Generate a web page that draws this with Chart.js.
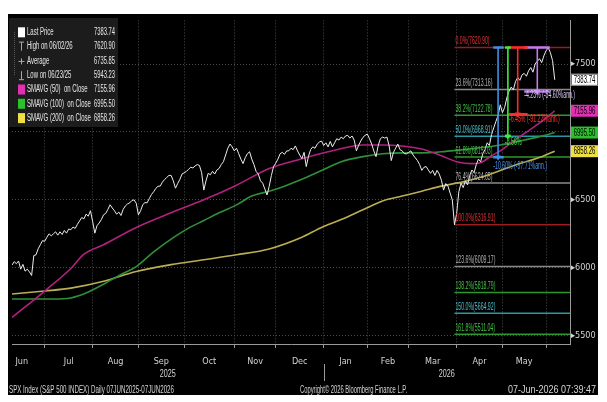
<!DOCTYPE html>
<html>
<head>
<meta charset="utf-8">
<title>SPX Index</title>
<script src="https://cdn.jsdelivr.net/npm/chart.js@4.4.1/dist/chart.umd.min.js"></script>
<style>
  html, body { margin: 0; padding: 0; background: #fff; }
  #box { position: absolute; left: 8px; top: 14px; width: 590px; height: 381px; background: #000; }
</style>
</head>
<body>
<div id="box"><canvas id="spx" width="590" height="381"></canvas></div>
<script>
// daily closes, trading day index 0 = 09 Jun 2025 ... 249 = 05 Jun 2026
const closes = [
  6020, 6045, 6030, 6050, 5990, 6025, 5975, 5990, 5970, 5943.23,
  6090, 6095, 6140, 6170, 6200, 6195, 6225, 6250, 6235, 6250,
  6265, 6240, 6265, 6245, 6275, 6255, 6285, 6280, 6300, 6290,
  6320, 6345, 6370, 6360, 6395, 6380, 6420, 6340, 6255, 6310,
  6330, 6355, 6390, 6400, 6430, 6464, 6440, 6420, 6395, 6410,
  6385, 6430, 6455, 6470, 6478, 6495, 6500, 6475, 6390, 6420,
  6465, 6480, 6478, 6510, 6540, 6560, 6585, 6600, 6601, 6630,
  6650, 6665, 6680, 6680, 6640, 6586, 6620, 6650, 6690, 6700,
  6709, 6725, 6740, 6735, 6750, 6760, 6753, 6700, 6572, 6640,
  6695, 6685, 6710, 6690, 6720, 6731, 6760, 6781, 6830, 6880,
  6911, 6890, 6861, 6880, 6840, 6800, 6767, 6810, 6840, 6854,
  6800, 6760, 6709, 6690, 6640, 6623, 6580, 6536, 6600, 6680,
  6745, 6770, 6800, 6839, 6850, 6835, 6860, 6861, 6880, 6870,
  6897, 6860, 6830, 6803, 6850, 6745, 6820, 6870, 6890, 6880,
  6910, 6925, 6933, 6900, 6920, 6890, 6930, 6890, 6920, 6950,
  6940, 6962, 6950, 6970, 6975, 6955, 6970, 6940, 6861, 6900,
  6933, 6960, 6975, 6984, 6950, 6911, 6860, 6818, 6900, 6950,
  6962, 6955, 6962, 6900, 6789, 6850, 6880, 6911, 6870, 6861,
  6840, 6839, 6850, 6861, 6830, 6810, 6789, 6760, 6717, 6740,
  6745, 6720, 6695, 6717, 6680, 6717, 6690, 6645, 6572, 6620,
  6601, 6550, 6500, 6316.91, 6400, 6560, 6623, 6590, 6640, 6610,
  6680, 6720, 6700, 6760, 6800, 6780, 6840, 6870, 6920, 6900,
  6980, 7030, 7077, 7120, 7200, 7142, 7180, 7250, 7300, 7330,
  7310, 7370, 7402, 7380, 7420, 7431, 7410, 7450, 7474, 7440,
  7500, 7520, 7539, 7510, 7560, 7597, 7620.90, 7583, 7525, 7383.74
];

// moving averages read at a few trading days
const sma50X = [0, 15, 27, 33, 42, 57, 73, 88, 103, 118, 133, 147, 161, 170, 179, 188, 197, 204, 211, 215, 220, 224, 230, 236, 243, 249];
const sma50Y = [5634, 5829, 5995, 6100, 6170, 6297, 6405, 6500, 6608, 6731, 6803, 6861, 6904, 6904, 6897, 6875, 6825, 6781, 6767, 6774, 6825, 6861, 6933, 6998, 7077, 7155.96];
const sma100X = [0, 19, 27, 34, 42, 50, 57, 65, 73, 80, 88, 95, 103, 110, 118, 125, 133, 142, 151, 161, 170, 179, 188, 197, 206, 215, 224, 233, 243, 249];
const sma100Y = [5770, 5770, 5778, 5814, 5879, 5951, 6009, 6117, 6211, 6283, 6348, 6405, 6463, 6528, 6564, 6601, 6651, 6716, 6781, 6818, 6839, 6846, 6846, 6854, 6868, 6883, 6904, 6933, 6969, 6995.50];
const sma200X = [0, 15, 27, 42, 57, 73, 88, 103, 118, 133, 142, 151, 161, 170, 179, 188, 197, 206, 215, 224, 233, 243, 249];
const sma200Y = [5807, 5829, 5850, 5901, 5973, 6023, 6059, 6096, 6139, 6225, 6297, 6355, 6427, 6492, 6528, 6564, 6601, 6630, 6666, 6716, 6767, 6818, 6858.26];

// axis ticks
const monthNames = ['Jun', 'Jul', 'Aug', 'Sep', 'Oct', 'Nov', 'Dec', 'Jan', 'Feb', 'Mar', 'Apr', 'May'];
const monthMid = [4.5, 26, 47.5, 68.5, 90.5, 111.5, 132, 153, 172.5, 193, 214.5, 235];
const monthStart = [15, 37, 58, 79, 102, 121, 143, 163, 182, 204, 225, 245];
const yearNames = ['2025', '2026'];
const yearMid = [71.5, 199.5];
const yTicks = [5500, 6000, 6500, 7000, 7500];

// fibonacci retracement from the 06/02/26 high down to the low
const fibPct = ['0.0%', '23.6%', '38.2%', '50.0%', '61.8%', '76.4%', '100.0%', '123.6%', '138.2%', '150.0%', '161.8%'];
const fibVal = [7620.90, 7313.16, 7122.78, 6968.91, 6815.03, 6624.65, 6316.91, 6009.17, 5818.79, 5664.92, 5511.04];
const fibFrom = 203;

// drawdown measuring tools
const toolStem = [223, 227.5, 232, 241];
const toolCapL = [220.8, 226.2, 228, 235];
const toolCapR = [225.6, 228.8, 236.6, 246.7];
const toolTop = 7620.90;
const toolBottom = [6813.1, 6968.5, 7129.4, 7298.5];
const toolText = ['-10.60% (-97.71%ann.)', '-8.56%', '-6.45% (-91.22%ann.)', '-4.23% (-54.60%ann.)'];

// legend
const legendNames = ['Last Price', 'High on 06/02/26', 'Average', 'Low on 06/23/25', 'SMAVG (50)  on Close', 'SMAVG (100)  on Close', 'SMAVG (200)  on Close'];
const legendValues = ['7383.74', '7620.90', '6735.85', '5943.23', '7155.96', '6995.50', '6858.26'];

const NARROW = '"Liberation Sans Narrow", "DejaVu Sans Condensed", "Liberation Sans", sans-serif';
const GRID = '#4c4c4c';
const AXIS = '#9a9a9a';
const LABEL = '#d4d4d4';
const fibKind = ['red', 'gray', 'green', 'teal', 'green', 'gray', 'red', 'gray', 'green', 'teal', 'green'];
const fibLine = { red: '#9a1c1c', gray: '#8a8a8a', green: '#2c982c', teal: '#2a98a4' };
const fibInk = { red: '#e03434', gray: '#b4b4b4', green: '#46c046', teal: '#4cc0cc' };
const toolColor = ['#3f8fe8', '#39f039', '#ff2a2a', '#c27cf0'];
const toolInk = ['#4a94ec', '#3ce83c', '#ff3030', '#d8c6f4'];
const toolDy = [9, 6, 5, 4];
const maColor = ['#b3207f', '#2f8f3a', '#bcae52'];
const maBox = ['#e22fb4', '#2cc02c', '#eee040'];

// condensed text, like the terminal font
function say(ctx, s, x, y, color, size, sx, align) {
  ctx.save();
  ctx.font = size + 'px "Liberation Sans", Arial, sans-serif';
  ctx.fillStyle = color;
  ctx.textBaseline = 'middle';
  const w = ctx.measureText(s).width * sx;
  const left = align === 'right' ? x - w : align === 'center' ? x - w / 2 : x;
  ctx.translate(left, y);
  ctx.scale(sx, 1);
  ctx.fillText(s, 0, 0);
  ctx.restore();
}
function sayFit(ctx, s, x, y, color, size, width) {
  ctx.save();
  ctx.font = size + 'px "Liberation Sans", Arial, sans-serif';
  const sx = width / ctx.measureText(s).width;
  ctx.restore();
  say(ctx, s, x, y, color, size, sx, 'left');
}

const datasets = [];
datasets.push({
  data: closes.map((v, i) => ({ x: i, y: v })),
  borderColor: '#ececec', borderWidth: 1, order: 2
});
[[sma50X, sma50Y], [sma100X, sma100Y], [sma200X, sma200Y]].forEach(([xs, ys], k) => {
  datasets.push({
    data: xs.map((x, i) => ({ x, y: ys[i] })),
    borderColor: maColor[k], borderWidth: 1.6,
    cubicInterpolationMode: 'monotone', order: 3
  });
});
fibVal.forEach((v, i) => {
  datasets.push({
    data: [{ x: fibFrom, y: v }, { x: 256, y: v }],
    borderColor: fibLine[fibKind[i]], borderWidth: 1.5, order: 5
  });
});
toolStem.forEach((s, i) => {
  datasets.push({
    data: [
      { x: toolCapL[i], y: toolTop }, { x: toolCapR[i], y: toolTop }, { x: toolCapR[i], y: null },
      { x: toolCapL[i], y: toolBottom[i] }, { x: toolCapR[i], y: toolBottom[i] }
    ],
    borderColor: toolColor[i], borderWidth: 2.5, order: 1
  });
  datasets.push({
    data: [{ x: s, y: toolTop }, { x: s, y: toolBottom[i] }],
    borderColor: toolColor[i], backgroundColor: toolColor[i], borderWidth: 1.6,
    pointStyle: 'triangle', pointRotation: 180, pointRadius: [0, 3.5], pointBorderWidth: 0,
    order: 1
  });
});

const overlay = {
  id: 'overlay',
  afterDatasetsDraw(chart) {
    const { ctx, scales: { x, y } } = chart;
    fibVal.forEach((v, i) => {
      say(ctx, fibPct[i] + '(' + v.toFixed(2) + ')', x.getPixelForValue(fibFrom) + 1,
        y.getPixelForValue(v) - 6, fibInk[fibKind[i]], 10, 0.52, 'left');
    });
    toolText.forEach((t, i) => {
      say(ctx, t, x.getPixelForValue(toolCapL[i]), y.getPixelForValue(toolBottom[i]) + toolDy[i],
        toolInk[i], 10, 0.52, 'left');
    });
  },
  afterDraw(chart) {
    const { ctx, chartArea: ca, scales: { x, y } } = chart;

    // price boxes on the right axis
    const boxVals = [closes[closes.length - 1], sma50Y[sma50Y.length - 1], sma100Y[sma100Y.length - 1], sma200Y[sma200Y.length - 1]];
    const boxFill = ['#ffffff'].concat(maBox);
    boxVals.forEach((v, i) => {
      const cy = y.getPixelForValue(v);
      ctx.fillStyle = boxFill[i];
      ctx.fillRect(ca.right + 1, cy - 6, 27, 12);
      if (i === 0) {
        ctx.strokeStyle = '#777';
        ctx.lineWidth = 1;
        ctx.strokeRect(ca.right + 1.5, cy - 5.5, 26, 11);
      }
      say(ctx, v.toFixed(2), ca.right + 14.5, cy + 0.5, '#000', 10, 0.6, 'center');
    });

    // legend panel
    ctx.fillStyle = '#1c1c1c';
    ctx.fillRect(1, 4, 109, 109);
    ctx.strokeStyle = '#555';
    ctx.setLineDash([1, 1]);
    ctx.beginPath();
    ctx.moveTo(6.5, 18); ctx.lineTo(6.5, 61);
    ctx.stroke();
    ctx.setLineDash([]);
    const icon = ['#ffffff', null, null, null].concat(maBox);
    legendNames.forEach((n, i) => {
      const ry = 18.3 + i * 14.3;
      if (icon[i]) {
        ctx.fillStyle = icon[i];
        ctx.fillRect(10, ry - 5, 7, 10);
      } else {
        ctx.strokeStyle = '#aaa';
        ctx.lineWidth = 1;
        ctx.beginPath();
        if (i === 1) { ctx.moveTo(11, ry - 4.5); ctx.lineTo(16, ry - 4.5); ctx.moveTo(13.5, ry - 4.5); ctx.lineTo(13.5, ry + 4); }
        if (i === 2) { ctx.moveTo(10.5, ry + 0.5); ctx.lineTo(16.5, ry + 0.5); ctx.moveTo(13.5, ry - 2.5); ctx.lineTo(13.5, ry + 3.5); }
        if (i === 3) { ctx.moveTo(11, ry + 4.5); ctx.lineTo(16, ry + 4.5); ctx.moveTo(13.5, ry - 4); ctx.lineTo(13.5, ry + 4.5); }
        ctx.stroke();
      }
      say(ctx, n, 19, ry, '#e6e6e6', 10, 0.6, 'left');
      say(ctx, legendValues[i], 107, ry, '#e6e6e6', 10, 0.58, 'right');
    });

    // year row under the months
    yearNames.forEach((t, i) => say(ctx, t, x.getPixelForValue(yearMid[i]), 360, LABEL, 10, 0.72, 'center'));
    const sep = Math.round(x.getPixelForValue(monthStart[6])) + 0.5;
    ctx.strokeStyle = AXIS;
    ctx.lineWidth = 1;
    ctx.beginPath();
    ctx.moveTo(sep, 350); ctx.lineTo(sep, 367);
    ctx.stroke();

    // footer
    sayFit(ctx, 'SPX Index (S&P 500 INDEX) Daily 07JUN2025-07JUN2026', 1, 376, LABEL, 10, 165);
    sayFit(ctx, 'Copyright\u00A9 2026 Bloomberg Finance L.P.', 292, 376, LABEL, 10, 107);
    sayFit(ctx, '07-Jun-2026 07:39:47', 500, 376, LABEL, 10, 88);
  }
};

new Chart(document.getElementById('spx'), {
  type: 'line',
  data: { datasets },
  options: {
    responsive: false,
    animation: false,
    layout: { padding: 0 },
    elements: { point: { radius: 0 }, line: { tension: 0 } },
    plugins: { legend: { display: false }, tooltip: { enabled: false } },
    scales: {
      x: {
        type: 'linear', position: 'bottom', min: 0, max: 256, weight: 1,
        afterBuildTicks: s => { s.ticks = monthMid.map(v => ({ value: v })); },
        afterFit: s => { s.height = 47; },
        grid: { display: false },
        border: { display: false },
        ticks: {
          autoSkip: false, maxRotation: 0, minRotation: 0, padding: 0,
          color: LABEL, font: { family: NARROW, size: 9 },
          callback: (v, i) => monthNames[i]
        }
      },
      xg: {
        type: 'linear', position: 'bottom', min: 0, max: 256, weight: 0,
        afterBuildTicks: s => { s.ticks = monthStart.map(v => ({ value: v })); },
        afterFit: s => { s.height = 4; },
        ticks: { display: false },
        grid: { color: GRID, tickColor: AXIS, tickLength: 4, tickBorderDash: [] },
        border: { display: true, color: AXIS, dash: [1, 2] }
      },
      y: {
        type: 'linear', position: 'right', min: 5439, max: 7821,
        afterBuildTicks: s => { s.ticks = yTicks.map(v => ({ value: v })); },
        afterFit: s => { s.width = 28; },
        grid: { color: GRID, drawTicks: false },
        border: { display: true, color: AXIS, dash: [1, 2] },
        ticks: {
          color: LABEL, padding: 1, font: { family: NARROW, size: 9 },
          callback: v => '\u25B8' + v
        }
      }
    }
  },
  plugins: [overlay]
});
</script>
</body>
</html>
